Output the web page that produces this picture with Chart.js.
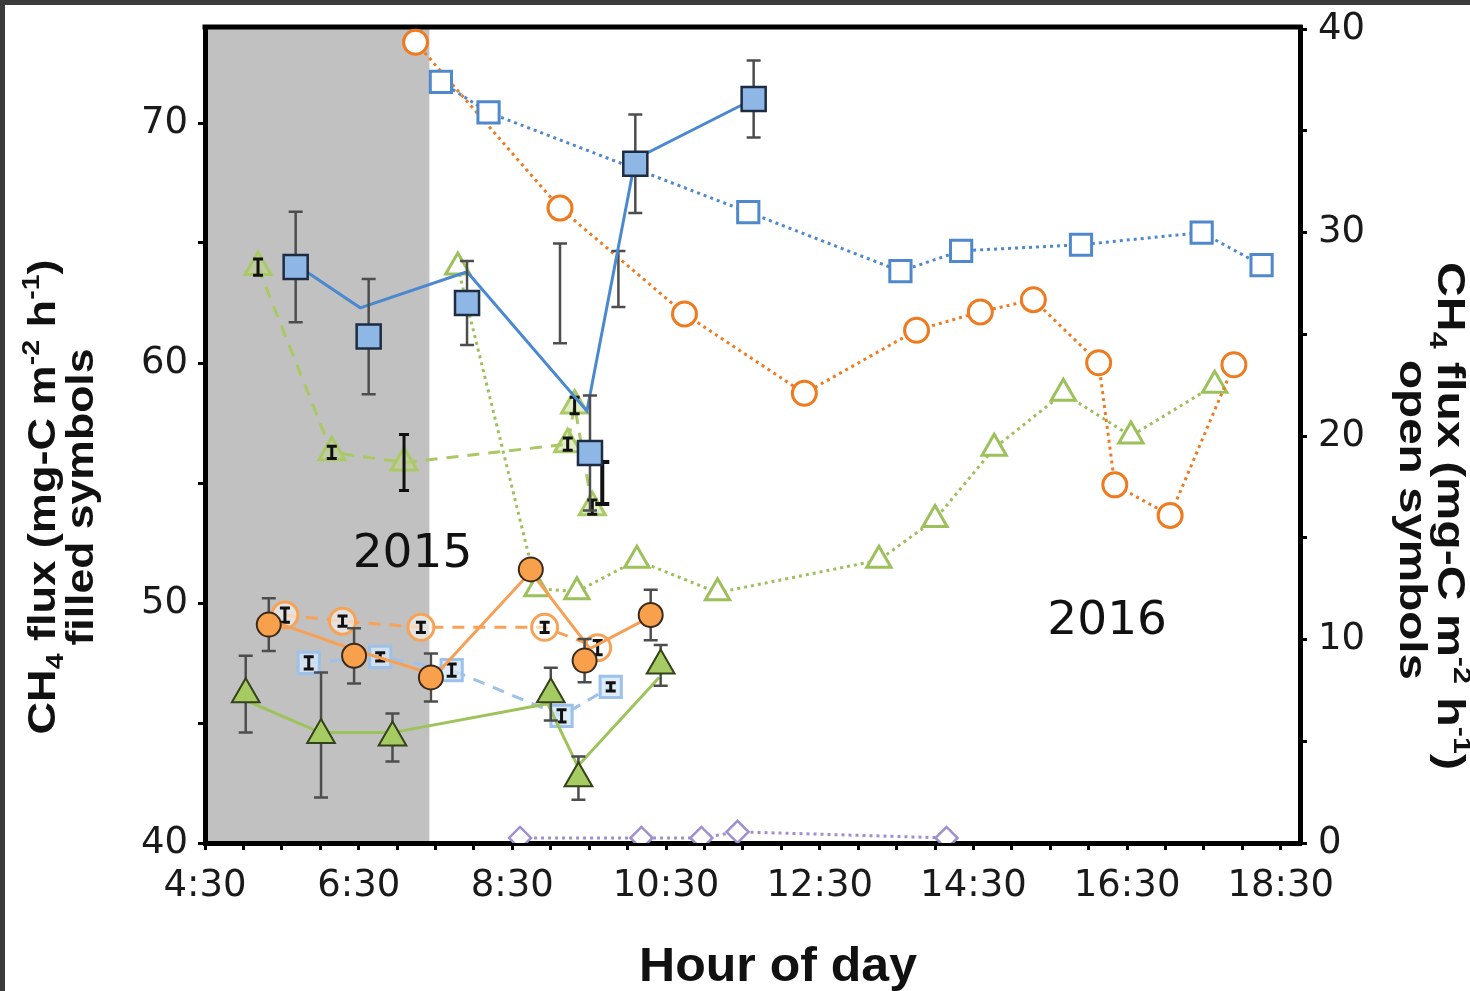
<!DOCTYPE html>
<html>
<head>
<meta charset="utf-8">
<title>CH4 flux by hour of day</title>
<script src="https://cdn.jsdelivr.net/npm/chart.js@4.4.1/dist/chart.umd.min.js"></script>
<style>
  html, body { margin: 0; padding: 0; background: #fff; }
  canvas { display: block; }
</style>
</head>
<body>
<canvas id="fluxChart" width="1470" height="991"></canvas>
<script>
// hours are decimal (8.5 = 8:30)
const xTickHours = [4.5, 6.5, 8.5, 10.5, 12.5, 14.5, 16.5, 18.5];
const leftTicks = [40, 50, 60, 70];
const rightTicks = [0, 10, 20, 30, 40];
const nightStart = 4.5;
const nightEnd = 7.42;

// 2015, filled symbols (left axis) - markers with error bars
const blue15Hours = [5.68, 6.63, 7.91, 9.51, 10.10, 11.64];
const blue15Flux = [64.0, 61.1, 62.5, 56.25, 68.3, 71.0];
const blue15Err = [2.3, 2.4, 1.75, 2.4, 2.05, 1.6];
const orange15Hours = [5.33, 6.44, 7.44, 8.74, 9.44, 10.30];
const orange15Flux = [49.1, 47.8, 46.9, 51.4, 47.6, 49.5];
const orange15Err = [1.1, 1.15, 1.0, 0, 0.9, 1.05];
const green15Hours = [5.03, 6.01, 6.94, 9.00, 9.36, 10.43];
const green15Flux = [46.2, 44.5, 44.4, 46.2, 42.7, 47.4];
const green15Err = [1.6, 2.6, 1.0, 1.1, 0.9, 0.85];

// 2015 connecting lines (left axis)
const blue15LineHours = [5.68, 6.52, 7.91, 9.47, 10.10, 11.64];
const blue15LineFlux = [64.1, 62.3, 63.8, 58.0, 68.5, 71.0];
const orange15LineHours = [5.41, 6.49, 7.50, 8.74, 9.51, 10.22];
const orange15LineFlux = [49.2, 48.0, 47.0, 51.3, 48.1, 49.3];
const green15LineHours = [4.99, 6.00, 6.94, 8.96, 9.35, 10.41];
const green15LineFlux = [46.0, 44.6, 44.6, 45.8, 43.2, 46.9];

// loose error bars without a marker (left axis)
const looseHours = [9.12, 9.88, 9.67];
const looseFlux = [62.9, 63.5, 55.0];
const looseErr = [2.08, 1.17, 0.88];

// 2015, dashed open symbols (right axis)
const greenDashHours = [5.19, 6.15, 7.09, 9.22, 9.31, 9.54];
const greenDashFlux = [28.3, 19.2, 18.7, 19.6, 21.5, 16.5];
const greenDashErr = [0.4, 0.3, 1.38, 0.3, 0.4, 0.35];
const orangeDashHours = [5.54, 6.29, 7.31, 8.92, 9.61];
const orangeDashFlux = [11.2, 10.9, 10.6, 10.6, 9.6];
const orangeDashErr = [0.35, 0.25, 0.25, 0.25, 0.35];
const blueDashHours = [5.85, 6.78, 7.71, 9.14, 9.78];
const blueDashFlux = [8.85, 9.15, 8.5, 6.25, 7.67];
const blueDashErr = [0.3, 0.2, 0.3, 0.3, 0.2];

// 2016, dotted open symbols (right axis)
const blue16Hours = [7.57, 8.19, 11.57, 13.55, 14.34, 15.90, 17.47, 18.25];
const blue16Flux = [37.4, 35.9, 31.0, 28.1, 29.1, 29.4, 30.0, 28.4];
const orange16Hours = [7.24, 9.12, 10.74, 12.30, 13.76, 14.59, 15.28, 16.13, 16.34, 17.06, 17.89];
const orange16Flux = [39.35, 31.2, 26.0, 22.1, 25.2, 26.1, 26.7, 23.6, 17.6, 16.1, 23.5];
const green16Hours = [7.79, 8.82, 9.34, 10.12, 11.17, 13.27, 14.00, 14.77, 15.67, 16.55, 17.64];
const green16Flux = [28.3, 12.5, 12.35, 13.9, 12.3, 13.9, 15.9, 19.4, 22.1, 20.0, 22.5];
const purple16Hours = [8.60, 10.18, 10.96, 11.43, 14.15];
const purple16Flux = [0.25, 0.25, 0.25, 0.55, 0.25];

const yearLabels = [
  { text: '2015', hour: 7.2, flux: 52.0 },
  { text: '2016', hour: 16.24, flux: 49.2 }
];

function pts(xs, ys) {
  return xs.map((x, i) => ({ x: x, y: ys[i] }));
}

function hourLabel(v) {
  const h = Math.floor(v);
  const m = Math.round((v - h) * 60);
  return h + ':' + String(m).padStart(2, '0');
}

const ERR_GREY = '#4d4d4d';

const datasets = [
  // filled markers sit on top
  { data: pts(blue15Hours, blue15Flux), yAxisID: 'y', showLine: false, pointStyle: 'rect',
    pointRadius: 17, backgroundColor: '#8fb7e6', borderColor: '#1d2c42', borderWidth: 2.5,
    errorBars: blue15Err, errorColor: ERR_GREY, errorWidth: 2.5, errorCap: 7 },
  { data: pts(orange15Hours, orange15Flux), yAxisID: 'y', showLine: false, pointStyle: 'circle',
    pointRadius: 12, backgroundColor: '#f9a04c', borderColor: '#3a2a1c', borderWidth: 2,
    errorBars: orange15Err, errorColor: ERR_GREY, errorWidth: 2.5, errorCap: 7 },
  { data: pts(green15Hours, green15Flux), yAxisID: 'y', showLine: false, pointStyle: 'triangle',
    pointRadius: 16, backgroundColor: '#a6cb62', borderColor: '#34421c', borderWidth: 2,
    errorBars: green15Err, errorColor: ERR_GREY, errorWidth: 2.5, errorCap: 7 },
  // solid lines
  { data: pts(blue15LineHours, blue15LineFlux), yAxisID: 'y', showLine: true, pointRadius: 0,
    borderColor: '#4a88d0', borderWidth: 3 },
  { data: pts(orange15LineHours, orange15LineFlux), yAxisID: 'y', showLine: true, pointRadius: 0,
    borderColor: '#f7a055', borderWidth: 3 },
  { data: pts(green15LineHours, green15LineFlux), yAxisID: 'y', showLine: true, pointRadius: 0,
    borderColor: '#9dc35a', borderWidth: 3 },
  { data: pts(looseHours, looseFlux), yAxisID: 'y', showLine: false, pointRadius: 0,
    errorBars: looseErr, errorColor: ERR_GREY, errorWidth: 2.5, errorCap: 7,
    errorStyles: [null, null, { color: '#111', width: 4 }] },
  // dashed open symbols
  { data: pts(greenDashHours, greenDashFlux), yAxisID: 'y2', showLine: true, pointStyle: 'triangle',
    pointRadius: 15, backgroundColor: 'rgba(190,215,130,0.45)', borderColor: '#aac965', pointBorderWidth: 3,
    borderWidth: 3, borderDash: [12, 9],
    errorBars: greenDashErr, errorOnTop: true, errorColor: '#111', errorWidth: 3, errorCap: 5 },
  { data: pts(orangeDashHours, orangeDashFlux), yAxisID: 'y2', showLine: true, pointStyle: 'circle',
    pointRadius: 13, backgroundColor: 'rgba(255,255,255,0.55)', borderColor: '#f6a257', pointBorderWidth: 3,
    borderWidth: 3, borderDash: [12, 9],
    errorBars: orangeDashErr, errorOnTop: true, errorColor: '#111', errorWidth: 3, errorCap: 5 },
  { data: pts(blueDashHours, blueDashFlux), yAxisID: 'y2', showLine: true, pointStyle: 'rect',
    pointRadius: 15, backgroundColor: 'rgba(214,230,248,0.8)', borderColor: '#9cc1ea', pointBorderWidth: 3,
    borderWidth: 3, borderDash: [12, 9],
    errorBars: blueDashErr, errorOnTop: true, errorColor: '#111', errorWidth: 3, errorCap: 5 },
  // dotted open symbols
  { data: pts(blue16Hours, blue16Flux), yAxisID: 'y2', showLine: true, pointStyle: 'rect',
    pointRadius: 15, backgroundColor: '#fff', borderColor: '#4f88cb', pointBorderWidth: 3,
    borderWidth: 3, borderDash: [3, 4] },
  { data: pts(orange16Hours, orange16Flux), yAxisID: 'y2', showLine: true, pointStyle: 'circle',
    pointRadius: 12, backgroundColor: '#fff', borderColor: '#ef7b20', pointBorderWidth: 3,
    borderWidth: 3, borderDash: [3, 4] },
  { data: pts(green16Hours, green16Flux), yAxisID: 'y2', showLine: true, pointStyle: 'triangle',
    pointRadius: 14, backgroundColor: '#fff', borderColor: '#9cc05a', pointBorderWidth: 3,
    borderWidth: 3, borderDash: [3, 4] },
  { data: pts(purple16Hours, purple16Flux), yAxisID: 'y2', showLine: true, pointStyle: 'rectRot',
    pointRadius: 11, backgroundColor: '#fff', borderColor: '#a08fcf', pointBorderWidth: 2.5,
    borderWidth: 3, borderDash: [3, 4] }
];

function drawErrorBars(chart, index, onTop) {
  const ds = chart.data.datasets[index];
  if (!ds.errorBars || !!ds.errorOnTop !== onTop) return;
  const meta = chart.getDatasetMeta(index);
  const yScale = chart.scales[meta.yAxisID];
  const ctx = chart.ctx;
  ctx.save();
  meta.data.forEach((pt, j) => {
    const e = ds.errorBars[j];
    if (!e) return;
    const style = (ds.errorStyles && ds.errorStyles[j]) || {};
    const v = ds.data[j].y;
    const top = yScale.getPixelForValue(v + e);
    const bot = yScale.getPixelForValue(v - e);
    const cap = ds.errorCap;
    ctx.strokeStyle = style.color || ds.errorColor;
    ctx.lineWidth = style.width || ds.errorWidth;
    ctx.beginPath();
    ctx.moveTo(pt.x, top); ctx.lineTo(pt.x, bot);
    ctx.moveTo(pt.x - cap, top); ctx.lineTo(pt.x + cap, top);
    ctx.moveTo(pt.x - cap, bot); ctx.lineTo(pt.x + cap, bot);
    ctx.stroke();
  });
  ctx.restore();
}

// text made of plain / subscript / superscript runs, squeezed to a given length
function drawRichText(ctx, parts, cx, cy, angle, size, family, length) {
  const fontFor = (k) => 'bold ' + (k ? Math.round(size * 0.62) : size) + 'px ' + family;
  ctx.save();
  ctx.translate(cx, cy);
  ctx.rotate(angle);
  ctx.textBaseline = 'alphabetic';
  ctx.textAlign = 'left';
  ctx.fillStyle = '#111';
  const widths = parts.map((p) => { ctx.font = fontFor(p[1]); return ctx.measureText(p[0]).width; });
  const total = widths.reduce((a, b) => a + b, 0);
  ctx.scale(length / total, 1);
  let x = -total / 2;
  parts.forEach((p, i) => {
    ctx.font = fontFor(p[1]);
    const dy = p[1] === 1 ? size * 0.22 : p[1] === 2 ? -size * 0.42 : 0;
    ctx.fillText(p[0], x, dy);
    x += widths[i];
  });
  ctx.restore();
}

const fluxTitle = [['CH', 0], ['4', 1], [' flux (mg-C m', 0], ['-2', 2], [' h', 0], ['-1', 2], [')', 0]];
const TITLE_FONT = '"Liberation Sans Narrow", "Liberation Sans", Arial, sans-serif';

const framePlugin = {
  id: 'frame',
  beforeDraw(chart) {
    const { ctx, chartArea: a, scales } = chart;
    ctx.save();
    ctx.fillStyle = '#3b3b3b';
    ctx.fillRect(0, 0, chart.width, chart.height);
    ctx.fillStyle = '#fff';
    ctx.fillRect(5, 5, chart.width - 5, chart.height - 5);
    const x0 = scales.x.getPixelForValue(nightStart);
    const x1 = scales.x.getPixelForValue(nightEnd);
    ctx.fillStyle = '#c1c1c1';
    ctx.fillRect(x0, a.top, x1 - x0, a.bottom - a.top);
    ctx.restore();
  },
  beforeDatasetsDraw(chart) {
    const { ctx, chartArea: a } = chart;
    ctx.save();
    ctx.strokeStyle = '#000';
    ctx.lineWidth = 5;
    ctx.beginPath();
    ctx.moveTo(a.left - 2.5, a.top);
    ctx.lineTo(a.right + 2.5, a.top);
    ctx.stroke();
    ctx.restore();
  },
  beforeDatasetDraw(chart, args) { drawErrorBars(chart, args.index, false); },
  afterDatasetDraw(chart, args) { drawErrorBars(chart, args.index, true); },
  afterDatasetsDraw(chart) {
    const { ctx, scales } = chart;
    ctx.save();
    ctx.fillStyle = '#111';
    ctx.font = '47px "DejaVu Sans", sans-serif';
    ctx.textAlign = 'center';
    ctx.textBaseline = 'middle';
    yearLabels.forEach((l) => {
      ctx.fillText(l.text, scales.x.getPixelForValue(l.hour), scales.y.getPixelForValue(l.flux));
    });
    ctx.restore();
  },
  afterDraw(chart) {
    const ctx = chart.ctx;
    // left axis title, reads bottom to top
    drawRichText(ctx, fluxTitle, 55, 497, -Math.PI / 2, 38, TITLE_FONT, 475);
    drawRichText(ctx, [['filled symbols', 0]], 93, 497, -Math.PI / 2, 38, TITLE_FONT, 297);
    // right axis title, reads top to bottom
    drawRichText(ctx, fluxTitle, 1438, 516, Math.PI / 2, 38, TITLE_FONT, 508);
    drawRichText(ctx, [['open symbols', 0]], 1400, 520, Math.PI / 2, 38, TITLE_FONT, 320);
    // x axis title
    ctx.save();
    ctx.fillStyle = '#111';
    ctx.font = 'bold 48px "Liberation Sans", Arial, sans-serif';
    const w = ctx.measureText('Hour of day').width;
    ctx.translate(778, 981);
    ctx.scale(278 / w, 1);
    ctx.textAlign = 'center';
    ctx.textBaseline = 'alphabetic';
    ctx.fillText('Hour of day', 0, 0);
    ctx.restore();
  }
};

const tickFont = { family: '"DejaVu Sans", sans-serif', size: 37 };
const axisGrid = { drawOnChartArea: false, drawTicks: true, tickLength: 7, color: '#000', lineWidth: 3 };
const axisBorder = { display: true, color: '#000', width: 5 };

// fixed axis sizes; the end labels may overhang the plot area
function fitVertical(width) {
  return (s) => {
    s.width = width;
    s.paddingTop = 0;
    s.paddingBottom = 0;
  };
}

new Chart(document.getElementById('fluxChart'), {
  type: 'scatter',
  data: { datasets: datasets },
  options: {
    responsive: false,
    animation: false,
    layout: { padding: { top: 27, left: 0, right: 0, bottom: 0 } },
    plugins: { legend: { display: false }, tooltip: { enabled: false } },
    scales: {
      x: {
        type: 'linear', min: 4.5, max: 18.75,
        grid: axisGrid, border: axisBorder,
        afterBuildTicks: (s) => {
          const t = [];
          for (let i = 0; i <= 28; i++) t.push({ value: 4.5 + i * 0.5 });
          s.ticks = t;
        },
        afterFit: (s) => { s.height = 148; s.paddingLeft = 0; s.paddingRight = 0; },
        ticks: {
          autoSkip: false, maxRotation: 0, padding: 14, color: '#1a1a1a', font: tickFont,
          callback: (v) => (xTickHours.includes(v) ? hourLabel(v) : '')
        }
      },
      y: {
        type: 'linear', position: 'left', min: 40, max: 74,
        grid: axisGrid, border: axisBorder,
        afterBuildTicks: (s) => {
          const t = [];
          for (let v = 40; v <= 70; v += 5) t.push({ value: v });
          s.ticks = t;
        },
        afterFit: fitVertical(205),
        ticks: {
          padding: 10, color: '#1a1a1a', font: tickFont,
          callback: (v) => (leftTicks.includes(v) ? String(v) : '')
        }
      },
      y2: {
        type: 'linear', position: 'right', min: 0, max: 40.1,
        grid: axisGrid, border: axisBorder,
        afterBuildTicks: (s) => {
          const t = [];
          for (let v = 0; v <= 40; v += 5) t.push({ value: v });
          s.ticks = t;
        },
        afterFit: fitVertical(170),
        ticks: {
          padding: 11, color: '#1a1a1a', font: tickFont,
          callback: (v) => (rightTicks.includes(v) ? String(v) : '')
        }
      }
    }
  },
  plugins: [framePlugin]
});
</script>
</body>
</html>
